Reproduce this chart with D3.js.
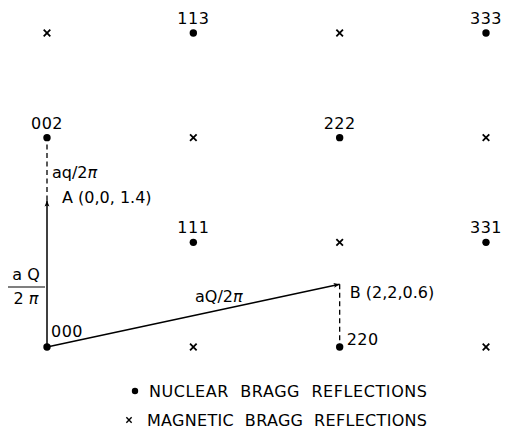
<!DOCTYPE html>
<html>
<head>
<meta charset="utf-8">
<script src="https://cdn.jsdelivr.net/npm/d3@7"></script>
<style>
  body { margin: 0; background: #fff; }
  svg text { font-family: "DejaVu Sans", sans-serif; fill: #000; }
</style>
</head>
<body>
<svg id="vis" width="505" height="438"></svg>
<script>
// reciprocal lattice points in the (h h l) plane: [label, h, l]
var nuclear = [["000",0,0],["002",0,2],["111",1,1],["113",1,3],
               ["220",2,0],["222",2,2],["331",3,1],["333",3,3]]
var magnetic = [[0,3],[2,3],[1,2],[3,2],[2,1],[1,0],[3,0]]
// scan points A and B: [name, h, l, label]
var scanPoints = [["A",0,1.4,"A (0,0, 1.4)"],["B",2,0.6,"B  (2,2,0.6)"]]
var legendItems = ["NUCLEAR  BRAGG  REFLECTIONS", "MAGNETIC  BRAGG  REFLECTIONS"]

var svg = d3.select("#vis")

var xScale = d3.scaleLinear().domain([0, 3]).range([47, 486])
var yScale = d3.scaleLinear().domain([0, 3]).range([347, 33])

svg.append("defs").append("marker")
    .attr("id", "arrow")
    .attr("viewBox", "0 0 10 10")
    .attr("refX", 10).attr("refY", 5)
    .attr("markerWidth", 12).attr("markerHeight", 6)
    .attr("markerUnits", "userSpaceOnUse")
    .attr("orient", "auto")
  .append("path")
    .attr("d", "M0,1 L10,5 L0,9 L2,5 Z")
    .attr("fill", "#000")

// dashed q vectors from scan point to lattice point
var dashTargets = [[0,2],[2,0]]
svg.append("g").selectAll("line.dash")
    .data(scanPoints)
    .enter().append("line")
    .attr("x1", d => xScale(d[1]))
    .attr("y1", d => yScale(d[2]))
    .attr("x2", (d, i) => xScale(dashTargets[i][0]))
    .attr("y2", (d, i) => yScale(dashTargets[i][1]))
    .attr("stroke", "#000")
    .attr("stroke-width", 1.3)
    .attr("stroke-dasharray", "5,3.5")

// solid Q vectors from the origin
svg.append("g").selectAll("line.vec")
    .data(scanPoints)
    .enter().append("line")
    .attr("x1", xScale(0))
    .attr("y1", yScale(0))
    .attr("x2", d => xScale(d[1]))
    .attr("y2", d => yScale(d[2]))
    .attr("stroke", "#000")
    .attr("stroke-width", 1.5)
    .attr("marker-end", "url(#arrow)")

// nuclear reflections
svg.append("g").selectAll("circle")
    .data(nuclear)
    .enter().append("circle")
    .attr("cx", d => xScale(d[1]))
    .attr("cy", d => yScale(d[2]))
    .attr("r", 3.7)
    .attr("fill", "#000")

var labelPos = { "000": [4, -10, "start"], "220": [7, -2, "start"] }
svg.append("g").selectAll("text")
    .data(nuclear)
    .enter().append("text")
    .attr("x", d => xScale(d[1]) + (labelPos[d[0]] ? labelPos[d[0]][0] : 0))
    .attr("y", d => yScale(d[2]) + (labelPos[d[0]] ? labelPos[d[0]][1] : -9))
    .attr("text-anchor", d => labelPos[d[0]] ? labelPos[d[0]][2] : "middle")
    .style("font-size", "16px")
    .style("letter-spacing", "0.5px")
    .text(d => d[0])

// magnetic reflections
var cross = d3.symbol().type(d3.symbolX).size(30)
svg.append("g").selectAll("path")
    .data(magnetic)
    .enter().append("path")
    .attr("d", cross)
    .attr("transform", d => "translate(" + xScale(d[0]) + "," + yScale(d[1]) + ")")
    .attr("stroke", "#000")
    .attr("stroke-width", 1.8)

// scan point labels
svg.append("g").selectAll("text")
    .data(scanPoints)
    .enter().append("text")
    .attr("x", d => xScale(d[1]) + (d[0] == "A" ? 15 : 10))
    .attr("y", d => yScale(d[2]) + (d[0] == "A" ? 3 : 14))
    .style("font-size", "16px")
    .text(d => d[3])

// vector annotations
svg.append("text")
    .attr("x", 52).attr("y", 178)
    .style("font-size", "16px")
    .html("aq/2<tspan font-style='italic'>π</tspan>")

svg.append("text")
    .attr("x", 195).attr("y", 302)
    .style("font-size", "16px")
    .html("aQ/2<tspan font-style='italic'>π</tspan>")

svg.append("text")
    .attr("x", 26).attr("y", 280)
    .attr("text-anchor", "middle")
    .style("font-size", "16px")
    .text("a Q")
svg.append("line")
    .attr("x1", 8).attr("x2", 45)
    .attr("y1", 287).attr("y2", 287)
    .attr("stroke", "#000")
    .attr("stroke-width", 1.2)
svg.append("text")
    .attr("x", 26).attr("y", 304)
    .attr("text-anchor", "middle")
    .style("font-size", "16px")
    .html("2 <tspan font-style='italic'>π</tspan>")

// legend
var legend = svg.append("g")
legend.append("circle")
    .attr("cx", 135).attr("cy", 391)
    .attr("r", 3.2)
    .attr("fill", "#000")
legend.append("path")
    .attr("d", d3.symbol().type(d3.symbolX).size(20))
    .attr("transform", "translate(129,420)")
    .attr("stroke", "#000")
    .attr("stroke-width", 1.4)

legend.selectAll("text")
    .data(legendItems)
    .enter().append("text")
    .attr("x", (d, i) => i == 0 ? 149 : 147)
    .attr("y", (d, i) => i == 0 ? 397 : 426)
    .attr("textLength", (d, i) => i == 0 ? 278 : 280)
    .attr("lengthAdjust", "spacing")
    .style("font-size", "16px")
    .style("white-space", "pre")
    .text(d => d)
</script>
</body>
</html>
